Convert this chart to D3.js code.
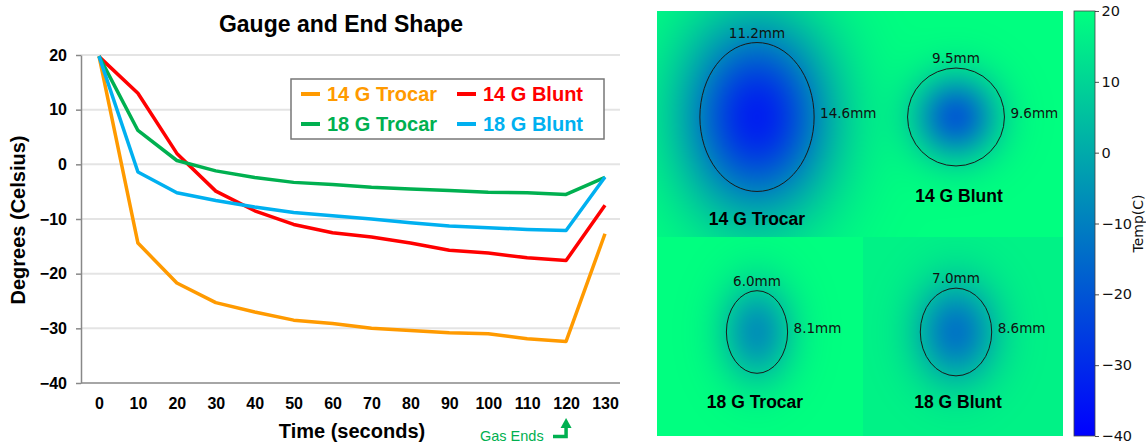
<!DOCTYPE html>
<html>
<head>
<meta charset="utf-8">
<script src="https://cdn.jsdelivr.net/npm/d3@7"></script>
<style>
  html, body { margin: 0; padding: 0; background: #fff; }
  svg { display: block; }
</style>
</head>
<body>
<div id="chart"></div>
<script>
// line chart data
const times = [0, 10, 20, 30, 40, 50, 60, 70, 80, 90, 100, 110, 120, 130];
const trocar14 = [19.8, -14.4, -21.7, -25.3, -27.0, -28.5, -29.1, -30.0, -30.4, -30.8, -31.0, -31.9, -32.4, -12.7];
const blunt14 = [19.7, 13.0, 2.0, -4.9, -8.5, -11.0, -12.5, -13.3, -14.4, -15.7, -16.2, -17.1, -17.6, -7.5];
const trocar18 = [19.8, 6.2, 0.7, -1.2, -2.4, -3.3, -3.7, -4.2, -4.5, -4.8, -5.1, -5.2, -5.5, -2.4];
const blunt18 = [19.8, -1.4, -5.2, -6.6, -7.8, -8.8, -9.4, -10.0, -10.7, -11.3, -11.6, -11.9, -12.1, -2.3];
const seriesNames = ["14 G Trocar", "14 G Blunt", "18 G Trocar", "18 G Blunt"];
const seriesColors = ["#ff9a00", "#ff0000", "#00b050", "#00b0f0"];
const yTicks = [20, 10, 0, -10, -20, -30, -40];

// heat map data
const blobNames = ["14 G Trocar", "14 G Blunt", "18 G Trocar", "18 G Blunt"];
const blobWidthMm = [11.2, 9.5, 6.0, 7.0];
const blobHeightMm = [14.6, 9.6, 8.1, 8.6];
const blobCenterTemp = [-32.4, -17.6, -5.5, -12.1];
const blobSpread = [1.3, 0.85, 1.2, 1.15];
const ambientTemp = [20, 20, 20, 17];
const cbarTicks = [20, 10, 0, -10, -20, -30, -40];

const width = 1146, height = 444;
const svg = d3.select("#chart").append("svg")
    .attr("width", width)
    .attr("height", height)
    .style("font-family", "'Liberation Sans', Arial, sans-serif");

// ---------------- left: line chart ----------------
const x = d3.scaleLinear().domain([0, 130]).range([99, 605]);
const y = d3.scaleLinear().domain([-40, 20]).range([383, 55]);
const axisLeftX = 81, plotRight = 620;

// gridlines
svg.append("g")
    .selectAll("line")
    .data(yTicks.filter(d => d != -40))
    .join("line")
    .attr("x1", axisLeftX).attr("x2", plotRight)
    .attr("y1", d => y(d)).attr("y2", d => y(d))
    .attr("stroke", "#e4e4e4")
    .attr("stroke-width", 2);

// y axis
const yAxis = svg.append("g")
    .attr("transform", `translate(${axisLeftX},0)`)
    .call(d3.axisLeft(y).tickValues(yTicks).tickSize(5).tickSizeOuter(0).tickPadding(9));
yAxis.select(".domain").attr("stroke", "#888").attr("stroke-width", 1.5);
yAxis.selectAll(".tick line").attr("stroke", "#888").attr("stroke-width", 1.5);
yAxis.selectAll("text")
    .attr("fill", "#000")
    .style("font-size", "16px")
    .style("font-weight", "bold")
    .style("font-family", "'Liberation Sans', Arial, sans-serif");

// x axis (labels only) + baseline
const xAxis = svg.append("g")
    .attr("transform", `translate(0,${y(-40)})`)
    .call(d3.axisBottom(x).tickValues(times).tickSize(0).tickPadding(15));
xAxis.select(".domain").remove();
xAxis.selectAll("text")
    .attr("fill", "#000")
    .style("font-size", "16px")
    .style("font-weight", "bold")
    .style("font-family", "'Liberation Sans', Arial, sans-serif");
svg.append("line")
    .attr("x1", axisLeftX).attr("x2", plotRight)
    .attr("y1", y(-40)).attr("y2", y(-40))
    .attr("stroke", "#888").attr("stroke-width", 1.5);

// lines
const allSeries = [trocar14, blunt14, trocar18, blunt18];
const lineGenerator = d3.line()
    .x((d, i) => x(times[i]))
    .y(d => y(d));
svg.append("g")
    .selectAll("path")
    .data(allSeries)
    .join("path")
    .attr("fill", "none")
    .attr("stroke", (d, i) => seriesColors[i])
    .attr("stroke-width", 3.5)
    .attr("stroke-linejoin", "round")
    .attr("d", d => lineGenerator(d));

// title + axis titles
svg.append("text")
    .attr("x", 341).attr("y", 32)
    .attr("text-anchor", "middle")
    .style("font-size", "23px").style("font-weight", "bold")
    .text("Gauge and End Shape");
svg.append("text")
    .attr("transform", "translate(25,220) rotate(-90)")
    .attr("text-anchor", "middle")
    .style("font-size", "20px").style("font-weight", "bold")
    .text("Degrees (Celsius)");
svg.append("text")
    .attr("x", 352).attr("y", 438)
    .attr("text-anchor", "middle")
    .style("font-size", "20px").style("font-weight", "bold")
    .text("Time (seconds)");

// legend
const legend = svg.append("g");
legend.append("rect")
    .attr("x", 291).attr("y", 79)
    .attr("width", 313).attr("height", 60)
    .attr("fill", "#fff")
    .attr("stroke", "#777")
    .attr("stroke-width", 1.5);
const legCols = [301, 457], legRows = [94, 124];
const legItems = legend.selectAll("g.item")
    .data(seriesNames)
    .join("g")
    .attr("class", "item")
    .attr("transform", (d, i) => `translate(${legCols[i % 2]},${legRows[Math.floor(i / 2)]})`);
legItems.append("line")
    .attr("x1", 0).attr("x2", 19)
    .attr("stroke", (d, i) => seriesColors[i])
    .attr("stroke-width", 4);
legItems.append("text")
    .attr("x", 26).attr("y", 7)
    .attr("fill", (d, i) => seriesColors[i])
    .style("font-size", "20px").style("font-weight", "bold")
    .text(d => d);

// gas ends marker
const gasX = x(120);
svg.append("text")
    .attr("x", 480).attr("y", 441)
    .attr("fill", "#00b050")
    .style("font-size", "14.5px")
    .text("Gas Ends");
svg.append("path")
    .attr("d", `M553,436.5 H${gasX} V426`)
    .attr("fill", "none")
    .attr("stroke", "#00b050")
    .attr("stroke-width", 3.5);
svg.append("path")
    .attr("d", `M${gasX - 5.5},428 L${gasX},418 L${gasX + 5.5},428 Z`)
    .attr("fill", "#00b050");

// ---------------- right: heat map ----------------
const winter = t => d3.rgb(0, 255 * t, 255 * (1 - 0.5 * t));
const temp = d3.scaleLinear().domain([-40, 20]).range([0, 1]).clamp(true);
const tempColor = v => winter(temp(v));

const hmLeft = 657, hmTop = 11, hmRight = 1063, hmBottom = 436;
const splitX = 863, splitY = 237;
const colX = [757, 956], rowY = [117, 332];
const mm = d3.scaleLinear().domain([0, 1]).range([0, 10.2]);

const blobs = blobNames.map((name, i) => ({
    name: name,
    cx: colX[i % 2],
    cy: rowY[Math.floor(i / 2)],
    rx: mm(blobWidthMm[i]) / 2,
    ry: mm(blobHeightMm[i]) / 2,
    i: i
}));

// regions: top row shares one background, bottom row split in two
function regionOf(px, py) {
    if (py < splitY) return [0, 1];
    return px < splitX ? [2] : [3];
}

const hmW = hmRight - hmLeft, hmH = hmBottom - hmTop;
const canvas = document.createElement("canvas");
canvas.width = hmW;
canvas.height = hmH;
const ctx = canvas.getContext("2d");
const img = ctx.createImageData(hmW, hmH);
for (let j = 0; j < hmH; j++) {
    for (let i = 0; i < hmW; i++) {
        const px = hmLeft + i + 0.5, py = hmTop + j + 0.5;
        const members = regionOf(px, py);
        const amb = ambientTemp[members[0]];
        let v = amb;
        members.forEach(k => {
            const b = blobs[k];
            const dx = (px - b.cx) / b.rx, dy = (py - b.cy) / b.ry;
            const r = Math.sqrt(dx * dx + dy * dy);
            v += (blobCenterTemp[k] - amb) * Math.exp(-Math.pow(r / blobSpread[k], 2));
        });
        const c = tempColor(v);
        const idx = (j * hmW + i) * 4;
        img.data[idx] = c.r;
        img.data[idx + 1] = c.g;
        img.data[idx + 2] = c.b;
        img.data[idx + 3] = 255;
    }
}
ctx.putImageData(img, 0, 0);

const hm = svg.append("g");
hm.append("image")
    .attr("x", hmLeft).attr("y", hmTop)
    .attr("width", hmW).attr("height", hmH)
    .attr("href", canvas.toDataURL());

hm.selectAll("ellipse")
    .data(blobs)
    .join("ellipse")
    .attr("cx", d => d.cx).attr("cy", d => d.cy)
    .attr("rx", d => d.rx).attr("ry", d => d.ry)
    .attr("fill", "none")
    .attr("stroke", "#1a1a1a")
    .attr("stroke-width", 1);

hm.selectAll("text.wlab")
    .data(blobs)
    .join("text")
    .attr("class", "wlab")
    .attr("x", d => d.cx).attr("y", d => d.cy - d.ry - 5)
    .attr("text-anchor", "middle")
    .style("font-family", "'DejaVu Sans', sans-serif")
    .style("font-size", "13.5px")
    .attr("fill", "#111")
    .text(d => blobWidthMm[d.i].toFixed(1) + "mm");

hm.selectAll("text.hlab")
    .data(blobs)
    .join("text")
    .attr("class", "hlab")
    .attr("x", d => d.cx + d.rx + 6).attr("y", d => d.cy + 1)
    .style("font-family", "'DejaVu Sans', sans-serif")
    .style("font-size", "13.5px")
    .attr("fill", "#111")
    .text(d => blobHeightMm[d.i].toFixed(1) + "mm");

const nameX = [757, 959, 755, 958], nameY = [225, 202, 408, 408];
hm.selectAll("text.name")
    .data(blobNames)
    .join("text")
    .attr("class", "name")
    .attr("x", (d, i) => nameX[i]).attr("y", (d, i) => nameY[i])
    .attr("text-anchor", "middle")
    .style("font-size", "17.5px").style("font-weight", "bold")
    .attr("fill", "#000")
    .text(d => d);

// colorbar
const cbX = 1074, cbW = 21;
const cbScale = d3.scaleLinear().domain([-40, 20]).range([hmBottom, hmTop]);
const defs = svg.append("defs");
const cbGrad = defs.append("linearGradient").attr("id", "cbar")
    .attr("x1", 0).attr("y1", 1).attr("x2", 0).attr("y2", 0);
cbGrad.append("stop").attr("offset", 0).attr("stop-color", tempColor(-40).formatHex());
cbGrad.append("stop").attr("offset", 1).attr("stop-color", tempColor(20).formatHex());
svg.append("rect")
    .attr("x", cbX).attr("y", hmTop)
    .attr("width", cbW).attr("height", hmBottom - hmTop)
    .attr("fill", "url(#cbar)")
    .attr("stroke", "#444")
    .attr("stroke-width", 0.8);
const cbAxis = svg.append("g")
    .attr("transform", `translate(${cbX + cbW},0)`)
    .call(d3.axisRight(cbScale).tickValues(cbarTicks).tickSize(4).tickSizeOuter(0).tickPadding(2.5)
        .tickFormat(d => String(d).replace("-", "\u2212")));
cbAxis.select(".domain").remove();
cbAxis.selectAll(".tick line").attr("stroke", "#222").attr("stroke-width", 0.8);
cbAxis.selectAll("text")
    .attr("fill", "#111")
    .style("font-family", "'DejaVu Sans', sans-serif")
    .style("font-size", "14.5px");
svg.append("text")
    .attr("transform", `translate(1143,${(hmTop + hmBottom) / 2}) rotate(-90)`)
    .attr("text-anchor", "middle")
    .style("font-family", "'DejaVu Sans', sans-serif")
    .style("font-size", "14px")
    .attr("fill", "#111")
    .text("Temp(C)");
</script>
</body>
</html>
